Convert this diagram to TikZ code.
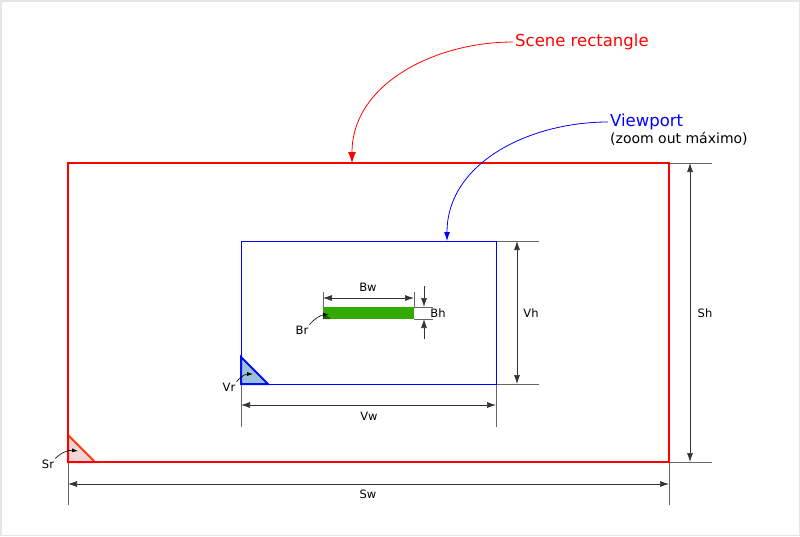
\documentclass[tikz,border=0pt]{standalone}
\usepackage{fontspec}
\setmainfont{DejaVu Sans}
\usetikzlibrary{arrows.meta}
\usetikzlibrary{positioning}

\definecolor{vpblue}{HTML}{0000FF}
\definecolor{vrfill}{HTML}{9DBFDF}
\definecolor{vrline}{HTML}{0011EE}
\definecolor{srline}{HTML}{FF3A10}
\definecolor{srfill}{HTML}{F2D5D5}
\definecolor{bargreen}{HTML}{33AA00}
\definecolor{brgreen}{HTML}{1F5F00}

\tikzset{
  extline/.style={draw=black!60, line width=0.6pt},
  dimline/.style={draw=black!80, line width=0.7pt,
    {Latex[length=9pt,width=6pt]}-{Latex[length=9pt,width=6pt]}},
  dimtip/.style={draw=black!80, line width=0.7pt, -{Latex[length=9pt,width=6pt]}},
  dimlabel/.style={font=\fontsize{11.5}{14}\selectfont, inner sep=1pt},
  pointer/.style={draw=black, line width=0.6pt, -{Latex[length=6pt,width=4pt]}},
  titlelabel/.style={anchor=west, inner sep=2pt, font=\fontsize{16.5}{19}\selectfont}
}

\begin{document}
\begin{tikzpicture}[x=1pt,y=-1pt]
    \draw[black!10, line width=1.5pt] (0.75,0.75) rectangle (799.25,535.25);
    \useasboundingbox (0,0) rectangle (800,536);

    % scene rectangle
    \coordinate (snw) at (68,163);
    \coordinate (sne) at (669,163);
    \coordinate (ssw) at (68,462);
    \coordinate (sse) at (669,462);
    \draw[extline] (sne) -- ++(43,0) coordinate (sne-x);
    \draw[extline] (sse) -- ++(43,0) coordinate (sse-x);
    \draw[extline] (ssw) -- ++(0,43);
    \draw[extline] (sse) -- ++(0,43);
    \draw[dimline] (690,163) coordinate (sh-a) -- (690,462) coordinate (sh-b);
    \node[dimlabel] (sh) at (705,313) {Sh};
    \draw[dimline] (68,484) coordinate (sw-a) -- (669,484) coordinate (sw-b);
    \node[dimlabel] (sw) at (368,494) {Sw};

    % Sr triangle
    \coordinate (sr-a) at (68,435);
    \coordinate (sr-b) at (95,462);
    \filldraw[fill=srfill, draw=srline, line width=2pt, line join=miter] (sr-a) -- (ssw) -- (sr-b) -- cycle;
    \draw[red, line width=1.6pt] (snw) rectangle (sse);
    \node[dimlabel] (sr) at (48,464) {Sr};
    \coordinate (sr-p) at (78,451);
    \draw[pointer] (sr.north east) to[bend left=25] (sr-p);

    % viewport
    \coordinate (vnw) at (241,241);
    \coordinate (vne) at (496,241);
    \coordinate (vsw) at (241,384);
    \coordinate (vse) at (496,384);
    \draw[extline] (vne) -- ++(43,0);
    \draw[extline] (vse) -- ++(43,0);
    \draw[extline] (vsw) -- ++(0,43);
    \draw[extline] (vse) -- ++(0,43);
    \draw[vpblue, line width=0.8pt] (vnw) rectangle (vse);
    \draw[dimline] (517,241) -- (517,384);
    \node[dimlabel] (vh) at (531,313) {Vh};
    \draw[dimline] (241,405) -- (496,405);
    \node[dimlabel] (vw) at (369,416) {Vw};

    % Vr triangle
    \coordinate (vr-a) at (241,357);
    \coordinate (vr-b) at (268,384);
    \filldraw[fill=vrfill, draw=vrline, line width=2pt, line join=miter] (vr-a) -- (vsw) -- (vr-b) -- cycle;
    \node[dimlabel] (vr) at (229,387) {Vr};
    \coordinate (vr-p) at (253,374);
    \draw[pointer] (vr.north east) to[bend left=25] (vr-p);

    % bar
    \coordinate (bnw) at (323,307);
    \coordinate (bse) at (414,319);
    \fill[bargreen] (bnw) rectangle (bse);
    \fill[brgreen] (323,312) -- (323,319) -- (331,319) -- cycle;
    \draw[extline] (323,292) -- (bnw);
    \draw[extline] (414,292) -- (414,307);
    \draw[extline] (414,307) -- (433,307);
    \draw[extline] (bse) -- (433,319);
    \draw[dimline] (323,298) -- (414,298);
    \node[dimlabel] (bw) at (368,287) {Bw};
    \draw[dimtip] (424,286) -- (424,307);
    \draw[dimtip] (424,339) -- (424,319);
    \node[dimlabel] (bh) at (438,313) {Bh};
    \node[dimlabel] (br) at (302,330) {Br};
    \coordinate (br-p) at (329,314);
    \draw[pointer] (br.north east) to[bend left=20] (br-p);

    % titles
    \node[titlelabel, text=red] (scenetitle) at (513,42) {Scene rectangle};
    \coordinate (scene-top) at (352,163);
    \draw[red, line width=0.8pt, -{Latex[length=11pt,width=8pt]}]
        (scenetitle.west) to[out=180,in=90] (scene-top);

    \node[titlelabel, text=vpblue] (vptitle) at (608,122) {Viewport};
    \node[titlelabel, font=\fontsize{14}{17}\selectfont] (vpnote) at (608,139) {(zoom out máximo)};
    \coordinate (vp-top) at (447,241);
    \draw[vpblue, line width=0.8pt, -{Latex[length=9pt,width=6pt]}]
        (vptitle.west) to[out=180,in=90] (vp-top);
\end{tikzpicture}
\end{document}
